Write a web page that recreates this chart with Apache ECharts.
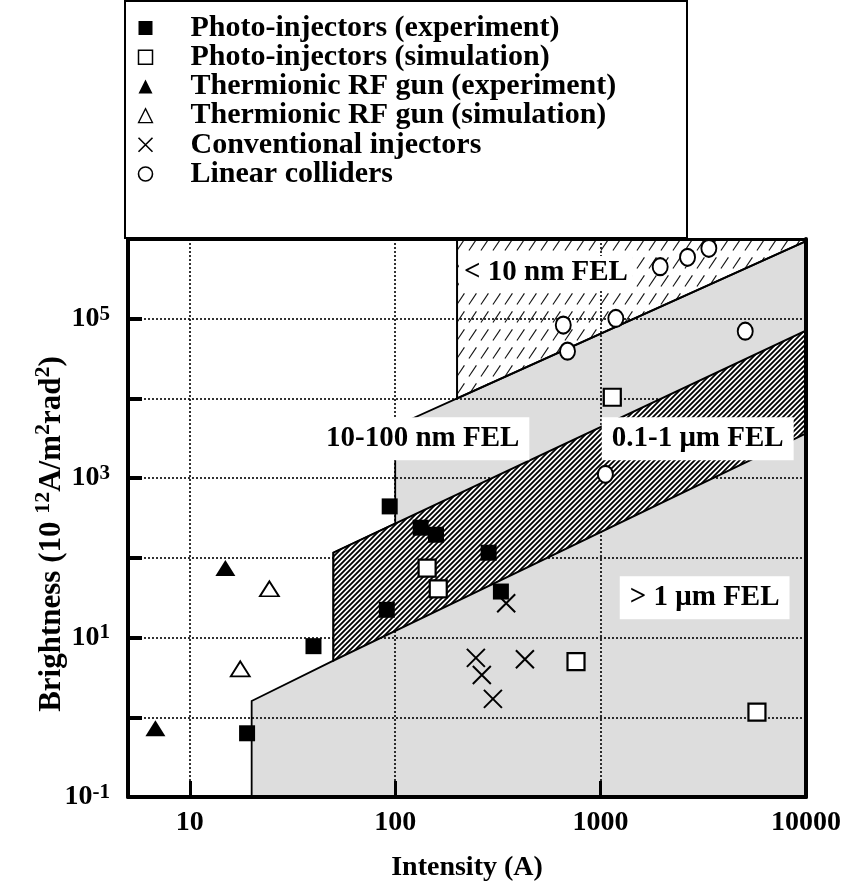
<!DOCTYPE html>
<html><head><meta charset="utf-8">
<script src="https://cdn.jsdelivr.net/npm/echarts@6/dist/echarts.min.js"></script>
<style>html,body{margin:0;padding:0;background:#fff}#chart{width:847px;height:886px}</style>
</head><body><div id="chart"></div>
<script>
// ---------------- data (Intensity [A], Brightness [10^12 A/m^2 rad^2]) ----------------
const photoExperiment = [[94,442],[133,239],[158,195],[91,22.3],[40,7.8],[19,0.63],[285,116],[327,37.8]];
const photoSimulation = [[143,74.5],[162,40.9],[1140,10350],[759,5.0],[5770,1.16]];
const thermionicExperiment = [[14.9,74.5],[6.8,0.73]];
const thermionicSimulation = [[24.4,40.9],[17.6,4.05]];
const conventionalInjectors = [[347,27],[247,5.56],[428,5.35],[264,3.4],[299,1.7]];
const linearColliders = [[1950,450000],[2650,589000],[3365,764000],[658,83200],[690,39200],[1186,100900],[5060,69800],[1055,1116]];

const seriesNames = ['Photo-injectors (experiment)','Photo-injectors (simulation)','Thermionic RF gun (experiment)','Thermionic RF gun (simulation)','Conventional injectors','Linear colliders'];
const xTickLabels = [10,100,1000,10000];
const yLabelExponents = [-1,1,3,5];

// FEL regions, vertices in data units
const grayRegion = [[20,0.1],[20,1.6],[50,5.14],[50,116],[100,270],[100,4470],[200,1e4],[10000,9.4e5],[10000,0.1]];
const bandRegion = [[50,5.14],[50,116],[10000,70800],[10000,3650]];
const xrayRegion = [[200,1e4],[200,1e6],[10000,1e6],[10000,9.4e5]];
const regionLabels = ['< 10 nm FEL','10-100 nm FEL','0.1-1 μm FEL','> 1 μm FEL'];
const regionLabelAnchors = [[542,379000],[136,3130],[2970,3130],[3210,31.6]];

// ---------------- styles ----------------
const FONT = '"Liberation Serif","Times New Roman",serif';
function densePattern(){
  const c=document.createElement('canvas'); c.width=5; c.height=5;
  const g=c.getContext('2d'); g.fillStyle='#fff'; g.fillRect(0,0,5,5);
  g.strokeStyle='#000'; g.lineWidth=1.8; g.beginPath();
  g.moveTo(-1,6); g.lineTo(6,-1); g.moveTo(-1,1); g.lineTo(1,-1); g.moveTo(4,6); g.lineTo(6,4);
  g.stroke(); return c;
}
function sparsePattern(){
  const w=12,h=18;
  const c=document.createElement('canvas'); c.width=w; c.height=h;
  const g=c.getContext('2d'); g.strokeStyle='#111'; g.lineWidth=1.1;
  g.beginPath(); g.moveTo(w*0.08,h*0.92); g.lineTo(w*0.7,h*0.3); g.stroke(); return c;
}

function polygonSeries(pts, style, z){
  return {
    type:'custom', coordinateSystem:'cartesian2d', xAxisIndex:0, yAxisIndex:0,
    z:z, silent:true, data: pts,
    renderItem:function(params, api){
      if(params.dataIndex!==0) return null;
      return {type:'polygon', shape:{points: pts.map(p=>api.coord(p))}, style: style};
    }
  };
}

const chart = echarts.init(document.getElementById('chart'), null, {renderer:'canvas'});

const isPow = v => Math.abs(Math.log10(v)-Math.round(Math.log10(v)))<1e-6;
const frameLine = w => ({show:true, lineStyle:{color:'#000', width:w}});
const off = {show:false};

const scatterBase = {type:'scatter', xAxisIndex:0, yAxisIndex:0, z:8, silent:true};
const xPath = 'path://M0,0L10,10M10,0L0,10';

const option = {
  animation:false,
  backgroundColor:'#fff',
  grid:{left:128, right:41, top:239, bottom:89, containLabel:false, outerBoundsMode:'none'},
  graphic:[{type:'rect', z:1, shape:{x:125, y:1, width:562, height:237}, style:{fill:'#fff', stroke:'#000', lineWidth:2}}],
  legend:{
    orient:'vertical', left:125, top:1, z:5, selectedMode:false,
    padding:[12,10,10,11], itemWidth:14, itemHeight:14, itemGap:-0.8,
    textStyle:{fontFamily:FONT, fontWeight:'bold', fontSize:30, lineHeight:29, color:'#000', padding:[0,0,0,33]},
    data:[
      {name:seriesNames[0], icon:'rect', itemStyle:{color:'#000', borderWidth:0, opacity:1}},
      {name:seriesNames[1], icon:'rect', itemStyle:{color:'#fff', borderColor:'#000', borderWidth:1.5, opacity:1}},
      {name:seriesNames[2], icon:'triangle', itemStyle:{color:'#000', borderWidth:0, opacity:1}},
      {name:seriesNames[3], icon:'triangle', itemStyle:{color:'#fff', borderColor:'#000', borderWidth:1.3, opacity:1}},
      {name:seriesNames[4], icon:xPath, itemStyle:{color:'none', borderColor:'#000', borderWidth:1.6, opacity:1}},
      {name:seriesNames[5], icon:'circle', itemStyle:{color:'#fff', borderColor:'#000', borderWidth:1.6, opacity:1}}
    ]
  },
  xAxis:[
    {type:'log', min:5, max:10000, position:'bottom', z:3,
     axisLine:off, axisTick:off, axisLabel:off,
     splitLine:{show:true, lineStyle:{color:'#000', width:1.6, type:[2,2]}}},
    {type:'log', min:5, max:10000, position:'bottom', z:10,
     axisLine:frameLine(4),
     axisTick:{show:true, inside:true, length:16, lineStyle:{color:'#000', width:3}},
     axisLabel:{show:true, margin:12, color:'#000', fontFamily:FONT, fontWeight:'bold', fontSize:28,
       formatter:v=>{const r=Math.round(v); return (isPow(v)&&xTickLabels.indexOf(r)>=0)?String(r):'';}},
     splitLine:off,
     name:'Intensity (A)', nameLocation:'middle', nameGap:57, nameMoveOverlap:false,
     nameTextStyle:{color:'#000', fontFamily:FONT, fontWeight:'bold', fontSize:28}},
    {type:'log', min:5, max:10000, position:'top', z:10,
     axisLine:frameLine(3), axisTick:off, axisLabel:off, splitLine:off}
  ],
  yAxis:[
    {type:'log', min:0.1, max:1e6, position:'left', z:3, splitNumber:7,
     axisLine:off, axisTick:off, axisLabel:off,
     splitLine:{show:true, lineStyle:{color:'#000', width:1.6, type:[2,2]}}},
    {type:'log', min:0.1, max:1e6, position:'left', z:10, splitNumber:7,
     axisLine:frameLine(4),
     axisTick:{show:true, inside:true, length:14, lineStyle:{color:'#000', width:4}},
     axisLabel:{show:true, margin:18, color:'#000',
       formatter:v=>{const e=Math.round(Math.log10(v)); return (isPow(v)&&yLabelExponents.indexOf(e)>=0)?('{b|10}{s|'+e+'}'):'';},
       rich:{
         b:{fontFamily:FONT, fontWeight:'bold', fontSize:28, lineHeight:30, color:'#000'},
         s:{fontFamily:FONT, fontWeight:'bold', fontSize:21, lineHeight:20, verticalAlign:'top', color:'#000'}
       }},
     splitLine:off,
     name:'Brightness (10 {s|12}A/m{s|2}rad{s|2})', nameLocation:'middle', nameRotate:90, nameGap:56, nameMoveOverlap:false,
     nameTextStyle:{color:'#000', fontFamily:FONT, fontWeight:'bold', fontSize:31, lineHeight:40, padding:[0,32,0,0],
       rich:{s:{fontFamily:FONT, fontWeight:'bold', fontSize:22, lineHeight:16, verticalAlign:'top', color:'#000'}}}},
    {type:'log', min:0.1, max:1e6, position:'right', z:10,
     axisLine:frameLine(4), axisTick:off, axisLabel:off, splitLine:off}
  ],
  series:[
    polygonSeries(grayRegion, {fill:'#dddddd', stroke:'#000', lineWidth:1.8}, 1),
    polygonSeries(bandRegion, {fill:{image:densePattern(), repeat:'repeat'}, stroke:'#000', lineWidth:2}, 5),
    polygonSeries(xrayRegion, {fill:{image:sparsePattern(), repeat:'repeat'}, stroke:'#000', lineWidth:2}, 5),
    {
      type:'custom', coordinateSystem:'cartesian2d', xAxisIndex:0, yAxisIndex:0, z:6, silent:true,
      data: regionLabelAnchors.map((p,i)=>[p[0],p[1],i]),
      renderItem:function(params, api){
        const pt = api.coord([api.value(0), api.value(1)]);
        const i = api.value(2);
        return {type:'text', x:pt[0], y:pt[1], style:{
          text: regionLabels[i], fill:'#000', font:'bold 29px '+FONT,
          align:'center', verticalAlign:'middle', backgroundColor:'#fff',
          padding: i===0 ? [2,5] : [7,10]}};
      }
    },
    Object.assign({}, scatterBase, {name:seriesNames[0], data:photoExperiment, symbol:'rect', symbolSize:16,
      itemStyle:{color:'#000', opacity:1}}),
    Object.assign({}, scatterBase, {name:seriesNames[1], data:photoSimulation, symbol:'rect', symbolSize:17,
      itemStyle:{color:'#fff', borderColor:'#000', borderWidth:2.2, opacity:1}}),
    Object.assign({}, scatterBase, {name:seriesNames[2], data:thermionicExperiment, symbol:'triangle', symbolSize:[20,16],
      itemStyle:{color:'#000', opacity:1}}),
    Object.assign({}, scatterBase, {name:seriesNames[3], data:thermionicSimulation, symbol:'triangle', symbolSize:[19,15],
      itemStyle:{color:'#fff', borderColor:'#000', borderWidth:1.8, opacity:1}}),
    Object.assign({}, scatterBase, {name:seriesNames[4], data:conventionalInjectors, symbol:xPath, symbolSize:18,
      itemStyle:{color:'none', borderColor:'#000', borderWidth:2, opacity:1}}),
    Object.assign({}, scatterBase, {name:seriesNames[5], data:linearColliders, symbol:'circle', symbolSize:[15,17],
      itemStyle:{color:'#fff', borderColor:'#000', borderWidth:2, opacity:1}})
  ]
};
chart.setOption(option);
</script></body></html>
